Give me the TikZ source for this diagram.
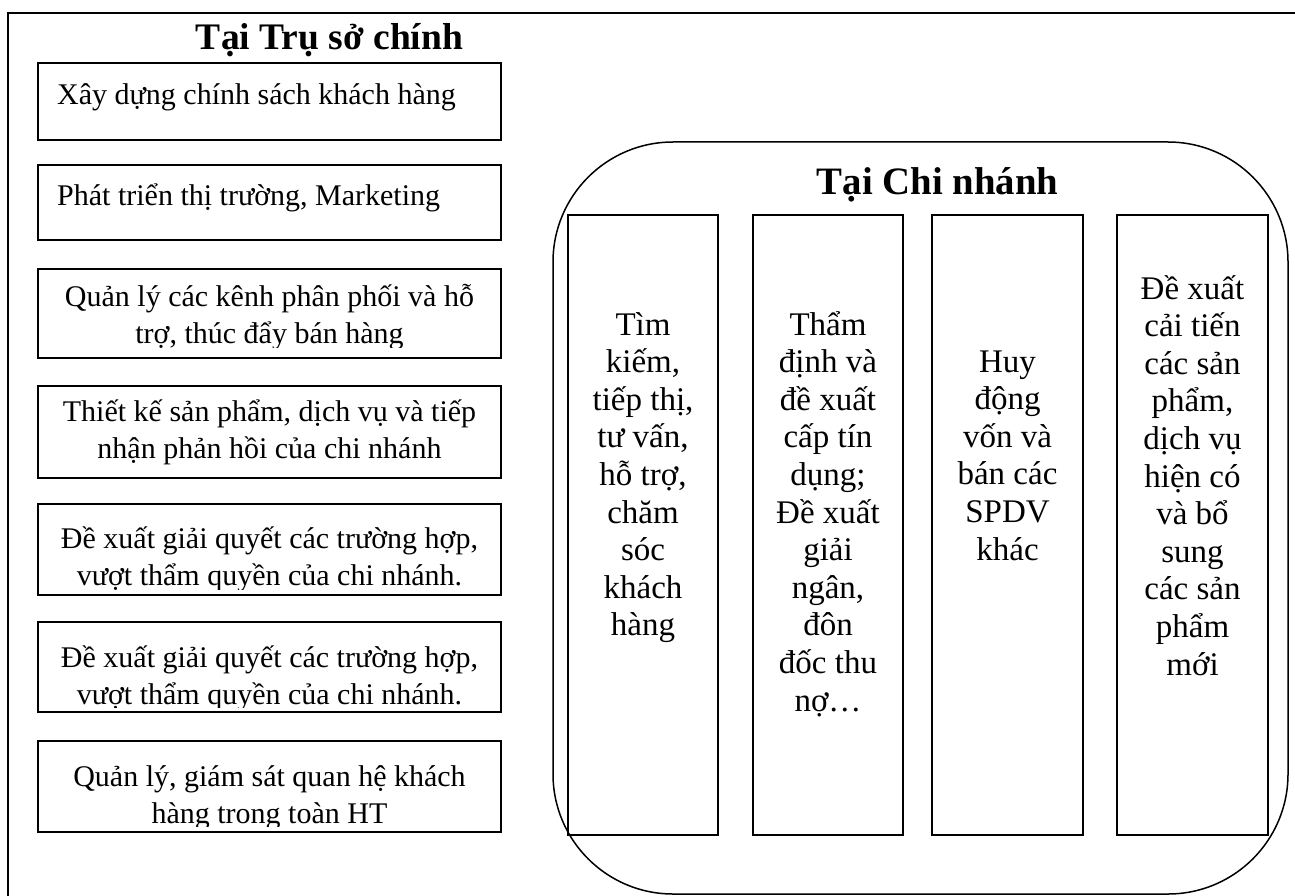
\documentclass[tikz,border=0pt]{standalone}
\usepackage{fontspec}
\setmainfont{Liberation Serif}
\begin{document}
\begin{tikzpicture}[x=1pt,y=-1pt,
  box/.style={draw,line width=1.5pt,inner sep=0pt},
  txt/.style={inner sep=0pt,anchor=base},
  bodyl/.style={font=\fontsize{30}{37.5}\selectfont},
  bodyc/.style={font=\fontsize{33}{37.6}\selectfont},
  ttl/.style={font=\fontsize{37.5}{40}\selectfont\bfseries,inner sep=0pt,anchor=base}]
\useasboundingbox (0,0) rectangle (1295,896);
% outer frame (only top and left visible)
\coordinate (fr1) at (1310,13);
\coordinate (fr2) at (8,13);
\coordinate (fr3) at (8,910);
\draw[line width=1.5pt] (fr1) -- (fr2) -- (fr3);

% ---------- Tai Tru so chinh ----------
\node[ttl] (tt1) at (329.5,50) {Tại Trụ sở chính};

\node[box,minimum width=463,minimum height=77] (h1) at (269.5,101.5) {};
\node[box,minimum width=463,minimum height=75] (h2) at (269.5,202.5) {};
\node[box,minimum width=463,minimum height=89] (h3) at (269.5,313.5) {};
\node[box,minimum width=463,minimum height=92] (h4) at (269.5,432) {};
\node[box,minimum width=463,minimum height=91] (h5) at (269.5,549.5) {};
\node[box,minimum width=463,minimum height=90] (h6) at (269.5,667) {};
\node[box,minimum width=463,minimum height=91] (h7) at (269.5,786.5) {};

\node[txt,bodyl,anchor=base west] (x1) at (57,105) {Xây dựng chính sách khách hàng};
\node[txt,bodyl,anchor=base west] (x2) at (57,205) {Phát triển thị trường, Marketing};

\begin{scope}
\clip (40,278) rectangle (499,347);
\node[txt,bodyl] (x3) at (269.5,306) {\parbox[t]{440pt}{\centering Quản lý các kênh phân phối và hỗ\\ trợ, thúc đẩy bán hàng}};
\end{scope}
\begin{scope}
\clip (40,395) rectangle (499,470);
\node[txt,bodyl] (x4) at (269.5,421) {\parbox[t]{440pt}{\centering Thiết kế sản phẩm, dịch vụ và tiếp\\ nhận phản hồi của chi nhánh}};
\end{scope}
\begin{scope}
\clip (40,513) rectangle (499,589);
\node[txt,bodyl] (x5) at (269.5,548) {\parbox[t]{440pt}{\centering Đề xuất giải quyết các trường hợp,\\ vượt thẩm quyền của chi nhánh.}};
\end{scope}
\begin{scope}
\clip (40,631) rectangle (499,707);
\node[txt,bodyl] (x6) at (269.5,667) {\parbox[t]{440pt}{\centering Đề xuất giải quyết các trường hợp,\\ vượt thẩm quyền của chi nhánh.}};
\end{scope}
\begin{scope}
\clip (40,750) rectangle (499,826);
\node[txt,bodyl] (x7) at (269.5,786) {\parbox[t]{440pt}{\centering Quản lý, giám sát quan hệ khách\\ hàng trong toàn HT}};
\end{scope}

% ---------- Tai Chi nhanh ----------
\node[box,rounded corners=120pt,minimum width=735,minimum height=752] (cn) at (920.5,518) {};
\node[ttl,font=\fontsize{38.8}{41}\selectfont\bfseries] (tt2) at (937.5,195) {Tại Chi nhánh};

\node[box,minimum width=150,minimum height=620] (c1) at (643,525) {};
\node[box,minimum width=150,minimum height=620] (c2) at (828,525) {};
\node[box,minimum width=151,minimum height=620] (c3) at (1007.5,525) {};
\node[box,minimum width=151,minimum height=620] (c4) at (1192.5,525) {};

\node[txt,bodyc] (y1) at (643,335) {\parbox[t]{145pt}{\centering Tìm\\ kiếm,\\ tiếp thị,\\ tư vấn,\\ hỗ trợ,\\ chăm\\ sóc\\ khách\\ hàng}};
\node[txt,bodyc] (y2) at (828,335) {\parbox[t]{145pt}{\centering Thẩm\\ định và\\ đề xuất\\ cấp tín\\ dụng;\\ Đề xuất\\ giải\\ ngân,\\ đôn\\ đốc thu\\ nợ…}};
\node[txt,bodyc] (y3) at (1007.5,372) {\parbox[t]{145pt}{\centering Huy\\ động\\ vốn và\\ bán các\\ SPDV\\ khác}};
\node[txt,bodyc] (y4) at (1192.5,299) {\parbox[t]{145pt}{\centering Đề xuất\\ cải tiến\\ các sản\\ phẩm,\\ dịch vụ\\ hiện có\\ và bổ\\ sung\\ các sản\\ phẩm\\ mới}};
\end{tikzpicture}
\end{document}
